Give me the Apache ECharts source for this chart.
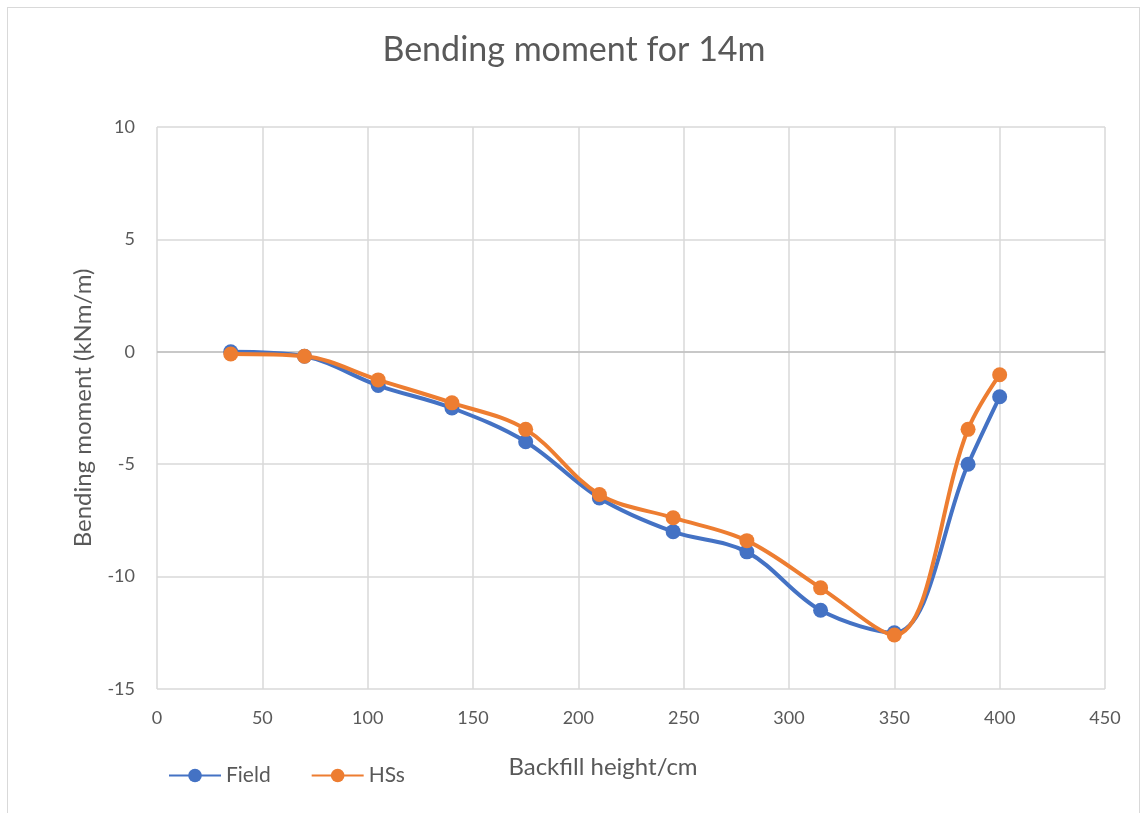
<!DOCTYPE html>
<html>
<head>
<meta charset="utf-8">
<script src="https://cdn.jsdelivr.net/npm/echarts@6/dist/echarts.min.js"></script>
<style>
html,body{margin:0;padding:0;background:#fff;}
#frame{position:absolute;left:7px;top:7px;width:1133px;height:820px;border:1px solid #D9D9D9;box-sizing:border-box;}
#chart{position:absolute;left:0;top:0;width:1148px;height:813px;}
</style>
</head>
<body>
<div id="frame"></div>
<div id="chart"></div>
<script>
const backfillHeight = [35, 70, 105, 140, 175, 210, 245, 280, 315, 350, 385, 400];
const fieldValues = [0, -0.2, -1.5, -2.5, -4.0, -6.5, -8.0, -8.9, -11.5, -12.5, -5.0, -2.0];
const hssValues = [-0.1, -0.2, -1.25, -2.27, -3.45, -6.35, -7.38, -8.4, -10.5, -12.6, -3.45, -1.02];
const seriesNames = ['Field', 'HSs'];

const font = 'Lato, "Open Sans", sans-serif';
const chart = echarts.init(document.getElementById('chart'));
const pairs = vals => backfillHeight.map((x, i) => [x, vals[i]]);

chart.setOption({
  animation: false,
  title: {
    text: 'Bending moment for 14m',
    left: 'center',
    top: 28,
    textStyle: { fontFamily: font, fontSize: 34, fontWeight: 'normal', color: '#595959' }
  },
  legend: {
    left: 163,
    top: 760,
    itemWidth: 52,
    itemHeight: 17,
    itemGap: 40,
    textStyle: { fontFamily: font, fontSize: 21, color: '#595959' },
    data: seriesNames
  },
  grid: { left: 157, right: 43, top: 127, bottom: 124 },
  xAxis: {
    type: 'value',
    min: 0, max: 450, interval: 50,
    name: 'Backfill height/cm',
    nameLocation: 'middle',
    nameGap: 66,
    nameTextStyle: { fontFamily: font, fontSize: 24, color: '#595959', padding: [0, 56, 0, 0] },
    axisLine: { show: false },
    axisTick: { show: false },
    axisLabel: { fontFamily: font, fontSize: 18, color: '#595959', margin: 20 },
    splitLine: { show: true, lineStyle: { color: '#D9D9D9', width: 1.5 } }
  },
  yAxis: {
    type: 'value',
    min: -15, max: 10, interval: 5,
    name: 'Bending moment (kNm/m)',
    nameLocation: 'middle',
    nameGap: 62,
    nameTextStyle: { fontFamily: font, fontSize: 24, color: '#595959' },
    axisLine: { show: false },
    axisTick: { show: false },
    axisLabel: { fontFamily: font, fontSize: 18, color: '#595959', margin: 22 },
    splitLine: { show: true, lineStyle: { color: '#D9D9D9', width: 1.5 } }
  },
  series: [
    {
      name: seriesNames[0],
      type: 'line',
      data: pairs(fieldValues),
      smooth: 0.35,
      symbol: 'circle',
      symbolSize: 15,
      lineStyle: { color: '#4472C4', width: 4 },
      itemStyle: { color: '#4472C4' },
      markLine: {
        silent: true,
        symbol: 'none',
        label: { show: false },
        lineStyle: { color: '#BFBFBF', width: 1.5, type: 'solid' },
        data: [{ yAxis: 0 }],
        z: 1
      },
      z: 3
    },
    {
      name: seriesNames[1],
      type: 'line',
      data: pairs(hssValues),
      smooth: 0.35,
      symbol: 'circle',
      symbolSize: 15,
      lineStyle: { color: '#ED7D31', width: 4 },
      itemStyle: { color: '#ED7D31' },
      z: 4
    }
  ]
});
</script>
</body>
</html>
